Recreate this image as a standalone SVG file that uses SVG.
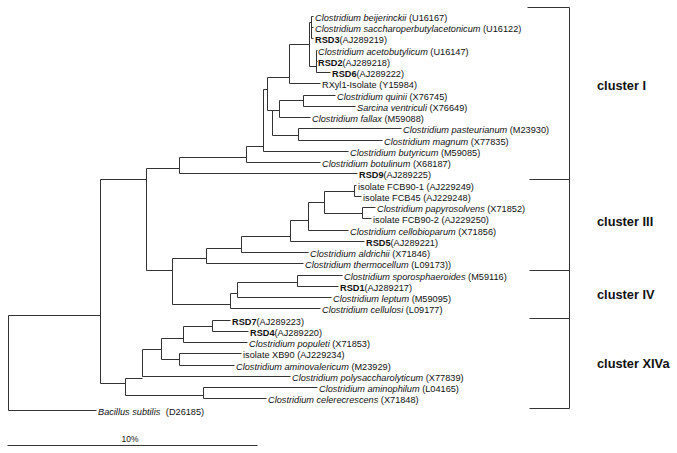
<svg xmlns="http://www.w3.org/2000/svg" width="677" height="453" viewBox="0 0 677 453">
<style>
text{font-family:"Liberation Sans",Arial,sans-serif;font-size:9.2px;fill:#111}
.i{font-style:italic}
.b{font-weight:bold}
.cl{font-size:12.8px;font-weight:bold}
.sc{font-size:8.5px}
.ln{fill:none;stroke:#333;stroke-width:1}
</style>
<rect width="677" height="453" fill="#fff"/>
<g id="connectors" transform="translate(0.5,0.5)">
<path class="ln" d="M8,315H100M8,315V410M8,410H96M100,179V383M100,179H146M100,383H125
M146,168V270M146,168H179M146,270H172
M179,157V173M179,157H246M179,173H357
M246,146V162M246,146H263M246,162H320
M263,89V151M263,89H267M263,151H348
M267,77V110M267,77H289M267,110H272
M289,44V83M289,44H309M289,83H320
M309,22V66M309,22H311M309,66H316
M311,16V38M311,16H313M311,27H313M311,38H313
M316,50V72M316,50H317M316,61H317M316,72H330
M272,110V135M272,110H279M272,135H298
M279,100V117M279,100H303M279,117H310
M303,95V106M303,95H335M303,106H355
M298,128V140M298,128H401M298,140H382
M172,258V304M172,258H206M172,304H230
M206,248V263M206,248H241M206,263H303
M241,236V252M241,236H290M241,252H308
M290,220V241M290,220H308M290,241H364
M308,202V230M308,202H324M308,230H348
M324,191V213M324,191H354M324,213H362
M354,185V196M354,185H356M354,196H361
M362,207V218M362,207H375M362,218H371
M230,293V308M230,293H237M230,308H320
M237,282V297M237,282H297M237,297H331
M297,275V286M297,275H342M297,286H338
M125,378V395M125,378H142M125,395H203
M142,349V376M142,349H161M142,376H290
M161,338V359M161,338H183M161,359H179
M183,326V342M183,326H212M183,342H247
M212,320V331M212,320H230M212,331H248
M179,353V365M179,353H241M179,365H234
M203,387V398M203,387H317M203,398H266"/>
<path class="ln" d="M527,7H569V408H529M529,179H569M529,270H569M529,318H569"/>
<path class="ln" d="M7,445H257"/>
</g>
<g id="n1"><text x="315" y="20.5"><tspan class="i">Clostridium beijerinckii</tspan> (U16167)</text></g>
<g id="n2"><text x="315" y="31.5"><tspan class="i">Clostridium saccharoperbutylacetonicum</tspan> (U16122)</text></g>
<g id="n3"><text x="315" y="42.5"><tspan class="b">RSD3</tspan>(AJ289219)</text></g>
<g id="n4"><text x="318" y="54.5"><tspan class="i">Clostridium acetobutylicum</tspan> (U16147)</text></g>
<g id="n5"><text x="318" y="65.5"><tspan class="b">RSD2</tspan>(AJ289218)</text></g>
<g id="n6"><text x="332" y="76.5"><tspan class="b">RSD6</tspan>(AJ289222)</text></g>
<g id="n7"><text x="322" y="87.5">RXyl1-Isolate (Y15984)</text></g>
<g id="n8"><text x="337" y="99.5"><tspan class="i">Clostridium quinii</tspan> (X76745)</text></g>
<g id="n9"><text x="357" y="110.5"><tspan class="i">Sarcina ventriculi</tspan> (X76649)</text></g>
<g id="n10"><text x="312" y="121.5"><tspan class="i">Clostridium fallax</tspan> (M59088)</text></g>
<g id="n11"><text x="403" y="132.5"><tspan class="i">Clostridium pasteurianum</tspan> (M23930)</text></g>
<g id="n12"><text x="384" y="144.5"><tspan class="i">Clostridium magnum</tspan> (X77835)</text></g>
<g id="n13"><text x="350" y="155.5"><tspan class="i">Clostridium butyricum</tspan> (M59085)</text></g>
<g id="n14"><text x="322" y="166.5"><tspan class="i">Clostridium botulinum</tspan> (X68187)</text></g>
<g id="n15"><text x="359" y="177.5"><tspan class="b">RSD9</tspan>(AJ289225)</text></g>
<g id="n16"><text x="358" y="189.5">isolate FCB90-1 (AJ229249)</text></g>
<g id="n17"><text x="363" y="200.5">isolate FCB45 (AJ229248)</text></g>
<g id="n18"><text x="377" y="211.5"><tspan class="i">Clostridium papyrosolvens</tspan> (X71852)</text></g>
<g id="n19"><text x="373" y="222.5">isolate FCB90-2 (AJ229250)</text></g>
<g id="n20"><text x="350" y="234.5"><tspan class="i">Clostridium cellobioparum</tspan> (X71856)</text></g>
<g id="n21"><text x="366" y="245.5"><tspan class="b">RSD5</tspan>(AJ289221)</text></g>
<g id="n22"><text x="310" y="256.5"><tspan class="i">Clostridium aldrichii</tspan> (X71846)</text></g>
<g id="n23"><text x="305" y="267.5"><tspan class="i">Clostridium thermocellum</tspan> (L09173))</text></g>
<g id="n24"><text x="344" y="279.5"><tspan class="i">Clostridium sporosphaeroides</tspan> (M59116)</text></g>
<g id="n25"><text x="340" y="290.5"><tspan class="b">RSD1</tspan>(AJ289217)</text></g>
<g id="n26"><text x="333" y="301.5"><tspan class="i">Clostridium leptum</tspan> (M59095)</text></g>
<g id="n27"><text x="322" y="312.5"><tspan class="i">Clostridium cellulosi</tspan> (L09177)</text></g>
<g id="n28"><text x="232" y="324.5"><tspan class="b">RSD7</tspan>(AJ289223)</text></g>
<g id="n29"><text x="250" y="335.5"><tspan class="b">RSD4</tspan>(AJ289220)</text></g>
<g id="n30"><text x="249" y="346.5"><tspan class="i">Clostridium populeti</tspan> (X71853)</text></g>
<g id="n31"><text x="243" y="357.5">isolate XB90 (AJ229234)</text></g>
<g id="n32"><text x="236" y="369.5"><tspan class="i">Clostridium aminovalericum</tspan> (M23929)</text></g>
<g id="n33"><text x="292" y="380.5"><tspan class="i">Clostridium polysaccharolyticum</tspan> (X77839)</text></g>
<g id="n34"><text x="319" y="391.5"><tspan class="i">Clostridium aminophilum</tspan> (L04165)</text></g>
<g id="n35"><text x="268" y="402.5"><tspan class="i">Clostridium celerecrescens</tspan> (X71848)</text></g>
<g id="n36"><text x="98" y="414.5"><tspan class="i">Bacillus subtilis</tspan><tspan dx="3"> (D26185)</tspan></text></g>
<g id="clusters">
<text class="cl" x="597" y="90">cluster I</text>
<text class="cl" x="597" y="226">cluster III</text>
<text class="cl" x="597" y="299">cluster IV</text>
<text class="cl" x="597" y="368">cluster XIVa</text>
</g>
<g id="scale"><text class="sc" x="130" y="442" text-anchor="middle">10%</text></g>
</svg>
